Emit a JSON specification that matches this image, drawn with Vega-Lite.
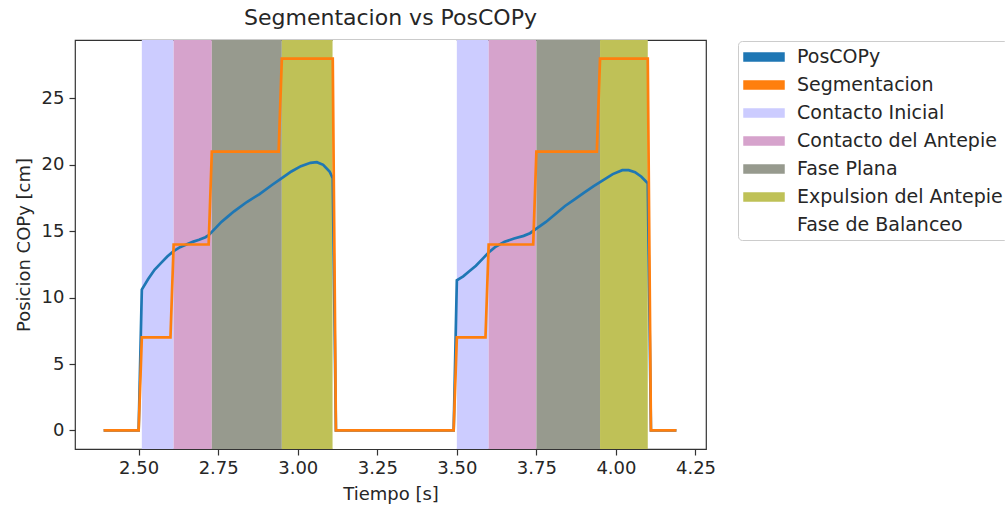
{
  "$schema": "https://vega.github.io/schema/vega-lite/v6.json",
  "width": 631,
  "height": 409,
  "autosize": {"type": "none"},
  "padding": {"left": 75, "top": 40, "right": 299, "bottom": 57},
  "background": "white",
  "config": {
    "font": "DejaVu Sans",
    "view": {"stroke": "#333333", "strokeWidth": 1.2},
    "axis": {
      "domain": false,
      "grid": false,
      "tickColor": "#333333",
      "tickSize": 6,
      "tickWidth": 1.2,
      "labelFontSize": 18,
      "labelColor": "#262626",
      "titleFontSize": 18,
      "titleFontWeight": "normal",
      "titleColor": "#262626",
      "labelFont": "DejaVu Sans",
      "titleFont": "DejaVu Sans"
    }
  },
  "title": {
    "text": "Segmentacion vs PosCOPy",
    "fontSize": 22,
    "fontWeight": "normal",
    "font": "DejaVu Sans",
    "color": "#262626",
    "anchor": "middle",
    "offset": 10
  },
  "datasets": {
    "fases": [
      {"fase": "Contacto Inicial", "inicio": 2.51, "fin": 2.61},
      {"fase": "Contacto del Antepie", "inicio": 2.61, "fin": 2.73},
      {"fase": "Fase Plana", "inicio": 2.73, "fin": 2.95},
      {"fase": "Expulsion del Antepie", "inicio": 2.95, "fin": 3.11},
      {"fase": "Fase de Balanceo", "inicio": 3.11, "fin": 3.50},
      {"fase": "Contacto Inicial", "inicio": 3.50, "fin": 3.60},
      {"fase": "Contacto del Antepie", "inicio": 3.60, "fin": 3.75},
      {"fase": "Fase Plana", "inicio": 3.75, "fin": 3.95},
      {"fase": "Expulsion del Antepie", "inicio": 3.95, "fin": 4.10}
    ],
    "poscopy": [
      {"t": 2.39, "v": 0}, {"t": 2.50, "v": 0}, {"t": 2.51, "v": 10.6},
      {"t": 2.53, "v": 11.4}, {"t": 2.55, "v": 12.1}, {"t": 2.57, "v": 12.6},
      {"t": 2.59, "v": 13.1}, {"t": 2.61, "v": 13.5}, {"t": 2.63, "v": 13.8},
      {"t": 2.65, "v": 14.0}, {"t": 2.67, "v": 14.2}, {"t": 2.69, "v": 14.35},
      {"t": 2.71, "v": 14.55}, {"t": 2.72, "v": 14.7}, {"t": 2.74, "v": 15.2},
      {"t": 2.76, "v": 15.7}, {"t": 2.78, "v": 16.1}, {"t": 2.80, "v": 16.5},
      {"t": 2.84, "v": 17.2}, {"t": 2.88, "v": 17.8}, {"t": 2.92, "v": 18.5},
      {"t": 2.95, "v": 19.0}, {"t": 2.98, "v": 19.5}, {"t": 3.01, "v": 19.9},
      {"t": 3.04, "v": 20.15}, {"t": 3.06, "v": 20.2}, {"t": 3.08, "v": 20.0},
      {"t": 3.10, "v": 19.5}, {"t": 3.11, "v": 19.0}, {"t": 3.12, "v": 0},
      {"t": 3.49, "v": 0}, {"t": 3.50, "v": 11.3}, {"t": 3.52, "v": 11.6},
      {"t": 3.54, "v": 12.0}, {"t": 3.56, "v": 12.4}, {"t": 3.58, "v": 12.9},
      {"t": 3.60, "v": 13.4}, {"t": 3.62, "v": 13.8}, {"t": 3.65, "v": 14.2},
      {"t": 3.68, "v": 14.45}, {"t": 3.71, "v": 14.65}, {"t": 3.73, "v": 14.85},
      {"t": 3.75, "v": 15.2}, {"t": 3.78, "v": 15.7}, {"t": 3.81, "v": 16.3},
      {"t": 3.84, "v": 16.9}, {"t": 3.87, "v": 17.4}, {"t": 3.90, "v": 17.9},
      {"t": 3.93, "v": 18.4}, {"t": 3.96, "v": 18.85}, {"t": 3.99, "v": 19.3},
      {"t": 4.02, "v": 19.6}, {"t": 4.04, "v": 19.6}, {"t": 4.06, "v": 19.45},
      {"t": 4.08, "v": 19.1}, {"t": 4.10, "v": 18.6}, {"t": 4.11, "v": 0},
      {"t": 4.19, "v": 0}
    ],
    "segmentacion": [
      {"t": 2.39, "v": 0}, {"t": 2.50, "v": 0}, {"t": 2.51, "v": 7},
      {"t": 2.60, "v": 7}, {"t": 2.61, "v": 14}, {"t": 2.72, "v": 14},
      {"t": 2.73, "v": 21}, {"t": 2.94, "v": 21}, {"t": 2.95, "v": 28},
      {"t": 3.11, "v": 28}, {"t": 3.12, "v": 0}, {"t": 3.49, "v": 0},
      {"t": 3.50, "v": 7}, {"t": 3.59, "v": 7}, {"t": 3.60, "v": 14},
      {"t": 3.74, "v": 14}, {"t": 3.75, "v": 21}, {"t": 3.94, "v": 21},
      {"t": 3.95, "v": 28}, {"t": 4.10, "v": 28}, {"t": 4.11, "v": 0},
      {"t": 4.19, "v": 0}
    ]
  },
  "resolve": {"scale": {"color": "shared"}},
  "layer": [
    {
      "data": {"name": "fases"},
      "mark": {"type": "rect", "opacity": 1},
      "encoding": {
        "x": {
          "field": "inicio", "type": "quantitative",
          "scale": {"domain": [2.3, 4.283], "nice": false, "zero": false},
          "axis": {"title": "Tiempo [s]", "values": [2.5, 2.75, 3.0, 3.25, 3.5, 3.75, 4.0, 4.25], "format": ".2f", "labelPadding": 4, "titlePadding": 8, "labelFlush": false}
        },
        "x2": {"field": "fin"},
        "color": {
          "field": "fase", "type": "nominal",
          "scale": {
            "domain": ["PosCOPy", "Segmentacion", "Contacto Inicial", "Contacto del Antepie", "Fase Plana", "Expulsion del Antepie", "Fase de Balanceo"],
            "range": ["#1f77b4", "#ff7f0e", "#ccccff", "#d6a3cc", "#979a8e", "#bfc157", "#ffffff"]
          },
          "legend": {
            "title": null,
            "orient": "none",
            "legendX": 663,
            "legendY": 1,
            "padding": 5,
            "fillColor": "white",
            "strokeColor": "#cccccc",
            "cornerRadius": 4,
            "labelFontSize": 19,
            "labelFont": "DejaVu Sans",
            "labelColor": "#262626",
            "labelLimit": 400,
            "labelOffset": 22,
            "symbolOffset": 10,
            "symbolSize": 400,
            "symbolType": "M-2,-0.4H2V0.4H-2Z",
            "rowPadding": 7
          }
        }
      }
    },
    {
      "data": {"name": "poscopy"},
      "mark": {"type": "line", "strokeWidth": 2.7},
      "encoding": {
        "x": {"field": "t", "type": "quantitative"},
        "y": {
          "field": "v", "type": "quantitative",
          "scale": {"domain": [-1.4, 29.4], "nice": false, "zero": false},
          "axis": {"title": "Posicion COPy [cm]", "values": [0, 5, 10, 15, 20, 25], "labelPadding": 5, "titlePadding": 8}
        },
        "color": {"datum": "PosCOPy"}
      }
    },
    {
      "data": {"name": "segmentacion"},
      "mark": {"type": "line", "strokeWidth": 2.7},
      "encoding": {
        "x": {"field": "t", "type": "quantitative"},
        "y": {"field": "v", "type": "quantitative"},
        "color": {"datum": "Segmentacion"}
      }
    }
  ]
}
